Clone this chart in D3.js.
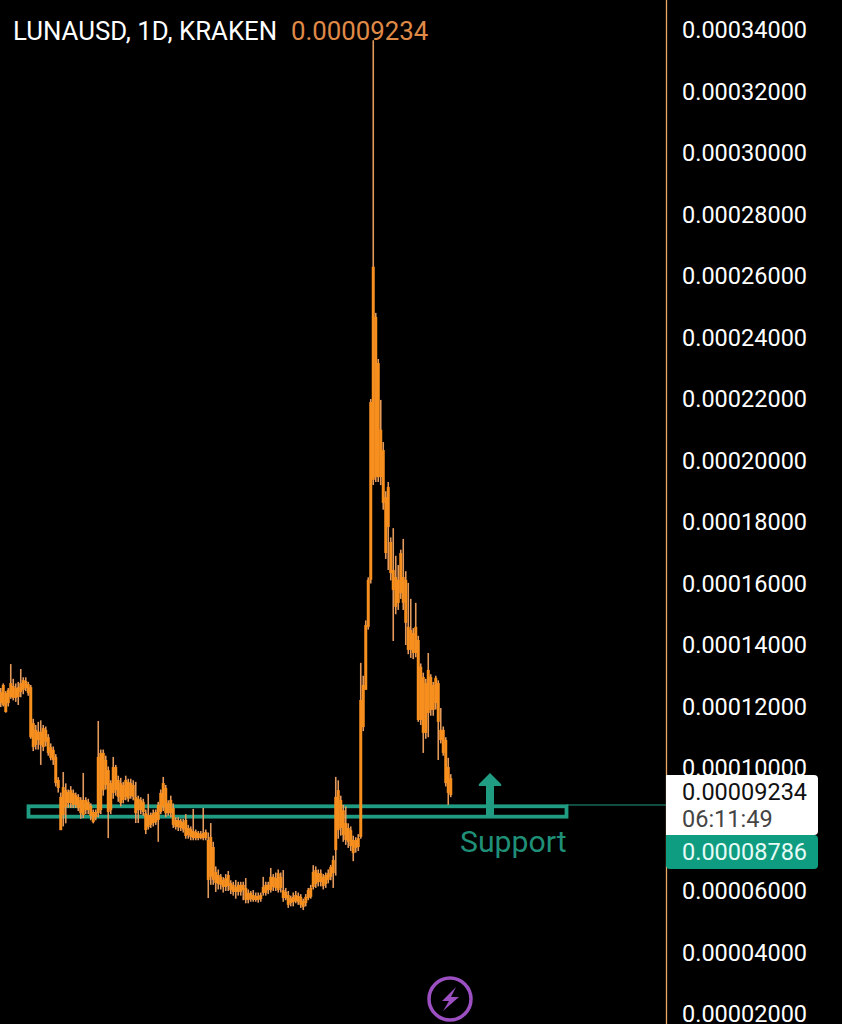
<!DOCTYPE html>
<html>
<head>
  <meta charset="utf-8">
  <title>LUNAUSD</title>
  <script src="https://d3js.org/d3.v7.min.js"></script>
  <style>
    html, body { margin: 0; padding: 0; background: #000; }
    svg { display: block; font-family: Roboto, sans-serif; }
  </style>
</head>
<body>
  <div id="chart"></div>
  <script>
    // All prices are in units of 0.00001 USD
    var bodyTop = [
      12.47,12.70,12.44,12.54,12.76,12.67,12.60,12.63,12.76,12.86,
      12.83,12.73,12.63,11.46,11.24,11.18,11.18,11.30,11.24,11.00,
      10.68,10.59,10.36,9.61,9.06,9.38,9.28,9.22,9.28,9.19,
      9.12,9.06,8.96,8.96,8.96,8.90,8.77,8.57,8.57,10.36,
      10.49,10.49,10.26,9.93,9.51,10.03,10.03,9.61,9.51,9.45,
      9.61,9.55,9.51,9.45,9.06,9.00,8.96,8.90,8.53,8.47,
      8.47,8.53,8.57,8.80,9.19,9.51,9.35,8.86,8.96,8.70,
      8.31,8.31,8.28,8.24,8.31,8.05,8.02,7.95,7.92,7.89,
      7.85,7.89,7.92,7.66,7.76,7.43,6.62,6.52,6.46,6.36,
      6.42,6.52,6.26,6.20,6.13,6.20,6.20,6.20,6.10,5.94,
      5.94,5.87,5.84,5.84,5.87,6.13,6.20,6.20,6.46,6.46,
      6.42,6.58,6.46,6.03,5.97,5.87,5.77,5.81,5.87,5.84,
      5.81,5.67,5.81,6.03,6.10,6.62,6.68,6.58,6.58,6.46,
      6.52,6.58,6.78,7.01,9.06,9.28,8.96,8.63,8.21,8.05,
      7.98,7.66,7.66,7.72,12.21,12.70,14.65,16.12,21.90,26.30,
      24.67,23.17,21.00,20.34,18.81,19.14,17.35,16.44,16.21,16.12,
      16.99,16.21,16.12,14.59,14.49,14.39,14.59,14.16,13.29,12.96,
      12.76,13.19,12.96,12.70,12.93,12.76,11.24,11.24,10.91,10.03,
      9.67
    ];
    var bodyBottom = [
      12.11,12.05,11.82,12.11,12.31,12.28,12.28,12.31,12.47,12.54,
      12.60,12.44,11.00,10.68,10.75,10.91,10.75,10.68,10.85,10.49,
      10.33,10.26,9.51,9.35,7.98,8.47,8.73,8.86,8.86,8.80,
      8.80,8.70,8.53,8.47,8.63,8.63,8.44,8.24,8.40,8.53,
      8.63,9.28,9.45,8.57,8.63,9.19,9.28,9.06,8.86,8.96,
      9.06,9.00,9.09,9.06,8.53,8.63,8.63,8.57,7.98,8.08,
      8.15,8.21,8.24,8.31,8.57,8.73,8.53,8.53,8.53,8.15,
      8.08,8.08,8.05,8.00,7.79,7.82,7.76,7.72,7.72,7.72,
      7.72,7.72,7.72,6.36,6.46,6.36,6.26,6.23,6.20,6.13,
      6.13,6.16,6.03,5.97,5.97,5.97,5.97,6.03,5.71,5.71,
      5.74,5.71,5.71,5.71,5.74,5.94,5.94,6.03,6.03,6.13,
      6.10,6.03,6.10,5.77,5.77,5.55,5.61,5.64,5.67,5.64,
      5.55,5.48,5.61,5.77,5.81,6.13,6.23,6.29,6.29,6.16,
      6.23,6.36,6.46,6.58,7.33,7.98,8.05,7.82,7.66,7.60,
      7.46,7.23,7.40,7.43,7.76,11.33,12.54,14.59,16.12,19.37,
      19.46,19.46,19.46,18.62,16.99,17.84,16.34,15.79,15.24,15.37,
      15.69,15.37,14.72,13.84,13.84,13.74,13.74,11.56,11.56,11.14,
      11.14,11.79,11.89,11.89,12.11,11.50,10.91,10.49,9.51,9.19,
      9.12
    ];
    var wickHigh = [
      12.60,12.75,12.50,12.60,13.38,12.90,12.75,12.80,13.22,12.95,
      12.95,12.80,12.70,11.60,11.40,11.50,11.55,11.40,11.35,11.10,
      10.80,10.70,10.45,9.70,9.20,9.87,9.50,9.30,9.41,9.30,
      9.20,9.15,9.05,9.84,9.05,9.00,8.85,8.65,8.65,11.53,
      10.60,10.60,10.40,10.05,9.60,10.36,10.10,9.75,9.68,9.55,
      9.75,9.65,9.65,9.60,9.55,9.10,9.05,9.00,8.65,9.16,
      8.55,8.65,8.65,8.90,9.30,9.71,9.45,8.95,9.10,8.85,
      8.40,8.40,8.35,8.35,8.50,8.15,8.10,8.67,8.00,7.95,
      7.95,8.70,8.00,7.90,8.21,7.60,6.80,6.70,6.55,6.45,
      6.55,6.65,6.35,6.30,6.36,6.30,6.30,6.30,6.42,6.05,
      6.00,6.03,5.95,5.95,5.95,6.46,6.30,6.30,6.75,6.55,
      6.60,6.70,6.60,6.68,6.10,6.00,5.85,5.95,6.00,5.95,
      5.90,5.75,5.90,6.10,6.20,6.84,6.80,6.70,6.70,6.55,
      6.60,6.70,6.85,7.15,9.71,9.60,9.10,8.80,8.75,8.20,
      8.10,7.80,7.75,7.85,13.42,13.00,14.80,16.20,22.00,33.67,
      24.80,23.30,21.97,20.60,19.00,19.30,17.50,17.80,16.90,16.60,
      17.10,17.45,16.40,16.02,15.50,14.55,15.37,14.30,13.40,13.10,
      12.90,13.74,13.05,12.80,13.00,12.85,11.95,11.35,11.00,10.33,
      9.80
    ];
    var wickLow = [
      11.98,12.00,11.80,12.00,12.25,12.20,12.15,12.05,12.30,12.40,
      12.50,12.35,10.95,10.55,10.60,10.60,10.10,10.55,10.70,10.40,
      10.25,10.10,9.40,9.20,7.98,8.10,8.20,8.70,8.70,8.70,
      8.70,8.60,8.35,8.37,8.50,8.50,8.30,8.20,8.30,8.40,
      8.50,9.10,9.30,7.72,8.50,9.00,9.10,8.90,8.75,8.85,
      8.95,8.90,9.00,8.95,8.21,8.21,8.50,8.45,7.85,8.00,
      8.05,8.10,8.15,7.60,8.50,8.60,8.40,8.45,8.40,8.05,
      8.00,7.95,7.95,7.90,7.70,7.70,7.65,7.65,7.65,7.65,
      7.68,7.65,7.65,5.77,6.20,6.20,5.97,6.05,6.05,5.95,
      6.00,6.00,5.90,5.85,5.75,5.85,5.85,5.70,5.60,5.60,
      5.65,5.65,5.65,5.62,5.65,5.85,5.85,5.90,5.95,6.00,
      6.00,5.95,5.95,5.65,5.70,5.45,5.50,5.50,5.60,5.55,
      5.45,5.38,5.50,5.70,5.75,6.05,6.10,6.15,6.15,6.05,
      6.10,6.25,6.35,6.10,6.50,7.70,7.80,7.60,7.50,7.40,
      7.30,6.97,7.25,7.30,7.70,11.20,13.10,14.50,16.00,19.20,
      19.30,19.30,19.20,18.40,16.80,16.44,16.10,14.13,15.00,15.14,
      15.50,15.14,14.00,13.70,13.58,13.54,13.60,11.50,11.40,10.49,
      10.95,11.00,11.70,11.70,11.90,10.26,10.80,10.40,9.40,8.80,
      9.05
    ];
    // 0.00008000 sits behind the price tags in the reference, so it is left out
    var priceTicks = [2, 4, 6, 10, 12, 14, 16, 18, 20, 22, 24, 26, 28, 30, 32, 34];
    var titleText = "LUNAUSD, 1D, KRAKEN";
    var lastPrice = "0.00009234";
    var countdown = "06:11:49";
    var markPrice = "0.00008786";
    var supportLow = 8.417, supportHigh = 8.755;

    var width = 842, height = 1024, axisX = 666;
    var orange = "#f78f1f", wickColor = "#e39a5c", teal = "#1f9c82";

    var svg = d3.select("#chart").append("svg")
      .attr("width", width)
      .attr("height", height)
      .style("background", "#000");

    var x = d3.scaleBand()
      .domain(d3.range(bodyTop.length))
      .range([-0.5, 452]);
    var y = d3.scaleLinear()
      .domain([34, 2])
      .range([30, 1014]);

    // Support zone
    svg.append("rect")
      .attr("x", 28.5)
      .attr("y", y(supportHigh))
      .attr("width", 538)
      .attr("height", y(supportLow) - y(supportHigh))
      .attr("fill", "none")
      .attr("stroke", teal)
      .attr("stroke-width", 3.8);
    svg.append("line")
      .attr("x1", 566).attr("x2", axisX)
      .attr("y1", y(supportHigh) - 1.3).attr("y2", y(supportHigh) - 1.3)
      .attr("stroke", teal)
      .attr("stroke-width", 1);

    // Candles
    var candles = svg.append("g");
    candles.selectAll("line")
      .data(bodyTop)
      .enter()
      .append("line")
        .attr("x1", function(d, i) { return x(i) + x.bandwidth() / 2; })
        .attr("x2", function(d, i) { return x(i) + x.bandwidth() / 2; })
        .attr("y1", function(d, i) { return y(wickHigh[i]); })
        .attr("y2", function(d, i) { return y(wickLow[i]); })
        .attr("stroke", wickColor)
        .attr("stroke-width", 1.6);
    candles.selectAll("rect")
      .data(bodyTop)
      .enter()
      .append("rect")
        .attr("x", function(d, i) { return x(i) - 0.25; })
        .attr("y", function(d) { return y(d); })
        .attr("width", x.bandwidth() + 0.5)
        .attr("height", function(d, i) { return y(bodyBottom[i]) - y(d); })
        .attr("fill", orange);

    // Arrow and label for the support zone
    svg.append("rect")
      .attr("x", 486).attr("y", 783)
      .attr("width", 8).attr("height", 34)
      .attr("fill", teal);
    svg.append("path")
      .attr("d", "M490,773 L501,784 Q502,786 500,786 L480,786 Q478,786 479,784 Z")
      .attr("fill", teal);
    svg.append("text")
      .attr("x", 460).attr("y", 852)
      .attr("font-size", 30.2)
      .attr("fill", "#1f8f78")
      .text("Support");

    // Price axis
    svg.append("line")
      .attr("x1", axisX + 0.5).attr("x2", axisX + 0.5)
      .attr("y1", 0).attr("y2", height)
      .attr("stroke", "#eda868")
      .attr("stroke-width", 1.3);
    var axis = svg.append("g")
      .attr("transform", "translate(" + axisX + ",0)")
      .call(d3.axisRight(y)
        .tickValues(priceTicks)
        .tickSize(0)
        .tickPadding(16)
        .tickFormat(function(d) { return (d / 100000).toFixed(8); }));
    axis.select(".domain").remove();
    axis.selectAll("text")
      .attr("fill", "#fff")
      .attr("font-family", "Roboto, sans-serif")
      .attr("font-size", 23.5);

    // Last price tags, drawn over the axis labels
    svg.append("path")
      .attr("d", "M666,775 H814 Q818,775 818,779 V831 Q818,835 814,835 H666 Z")
      .attr("fill", "#fff");
    svg.append("text")
      .attr("x", 682).attr("y", 800)
      .attr("font-size", 23.5)
      .attr("fill", "#111")
      .text(lastPrice);
    svg.append("text")
      .attr("x", 682).attr("y", 827)
      .attr("font-size", 23.5)
      .attr("fill", "#444")
      .text(countdown);
    svg.append("path")
      .attr("d", "M666,835 H814 Q818,835 818,839 V865 Q818,869 814,869 H670 Q666,869 666,865 Z")
      .attr("fill", "#0f9d82");
    svg.append("text")
      .attr("x", 682).attr("y", 860)
      .attr("font-size", 23.5)
      .attr("fill", "#e6fbf5")
      .text(markPrice);

    // Title
    svg.append("text")
      .attr("x", 13).attr("y", 40)
      .attr("font-size", 25.8)
      .attr("fill", "#fff")
      .text(titleText);
    svg.append("text")
      .attr("x", 291).attr("y", 40)
      .attr("font-size", 25.8)
      .attr("fill", "#e08a48")
      .text(lastPrice);

    // Lightning badge
    svg.append("circle")
      .attr("cx", 450).attr("cy", 999)
      .attr("r", 21)
      .attr("fill", "none")
      .attr("stroke", "#9b4fc0")
      .attr("stroke-width", 3.5);
    svg.append("path")
      .attr("d", "M456,987 L442,1001 L449,1001 L443,1011 L459,997 L451,997 Z")
      .attr("fill", "#9b4fc0");
  </script>
</body>
</html>
